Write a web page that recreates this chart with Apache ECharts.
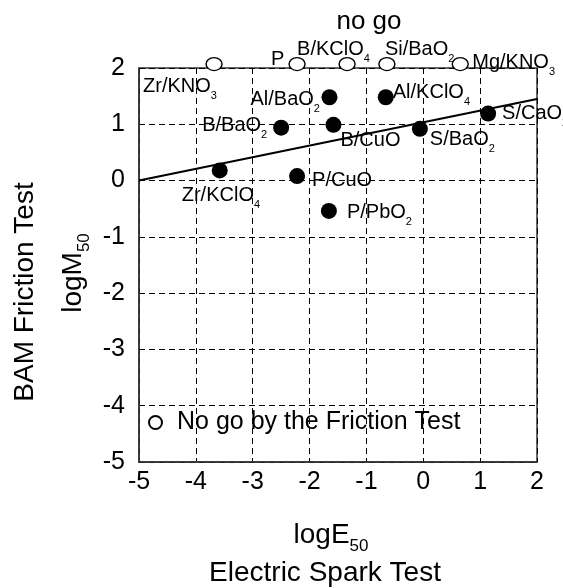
<!DOCTYPE html>
<html>
<head>
<meta charset="utf-8">
<script src="https://cdn.jsdelivr.net/npm/echarts@6/dist/echarts.min.js"></script>
<style>
  html, body { margin: 0; padding: 0; background: #fff; }
  #chart { width: 563px; height: 588px; }
</style>
</head>
<body>
<div id="chart"></div>
<script>
// "no go" compositions (open circles, sitting on the top edge)
const noGoNames = ['Zr/KNO_3', 'P', 'B/KClO_4', 'Si/BaO_2', 'Mg/KNO_3'];
const noGoX = [-3.68, -2.22, -1.34, -0.64, 0.65];
const noGoY = [2.07, 2.07, 2.07, 2.07, 2.07];

// compositions that went (filled circles)
const goNames = ['Al/BaO_2', 'Al/KClO_4', 'S/CaO_2', 'B/BaO_2', 'B/CuO', 'S/BaO_2', 'Zr/KClO_4', 'P/CuO', 'P/PbO_2'];
const goX = [-1.65, -0.66, 1.14, -2.5, -1.58, -0.06, -3.58, -2.22, -1.66];
const goY = [1.48, 1.48, 1.19, 0.94, 0.99, 0.92, 0.18, 0.08, -0.54];

// fitted line
const fitX = [-5, 2];
const fitY = [0, 1.45];

// label placement: [dx to text start, dy to text middle] in px from the point
const labelOffsets = {
  'Zr/KNO_3': [-71, 22],
  'P': [-26, -5],
  'B/KClO_4': [-50, -15],
  'Si/BaO_2': [-2, -15],
  'Mg/KNO_3': [12, -2],
  'Al/BaO_2': [-79, 2],
  'Al/KClO_4': [7, -5],
  'S/CaO_2': [14, 0],
  'B/BaO_2': [-79, -2],
  'B/CuO': [7, 16],
  'S/BaO_2': [10, 11],
  'Zr/KClO_4': [-38, 25],
  'P/CuO': [15, 4],
  'P/PbO_2': [18, 2]
};

const FONT = "'Liberation Sans', Arial, sans-serif";

function toRich(name) {
  return name.replace(/_(\d+)/g, '{s|$1}');
}

function makePoints(names, xs, ys) {
  return names.map((n, i) => {
    const off = labelOffsets[n];
    return {
      name: n,
      value: [xs[i], ys[i]],
      label: {
        show: true,
        position: 'inside',
        align: 'left',
        verticalAlign: 'middle',
        offset: off,
        formatter: toRich(n)
      }
    };
  });
}

const pointLabel = {
  color: '#000',
  fontFamily: FONT,
  fontSize: 20,
  lineHeight: 30,
  rich: {
    s: { fontSize: 11, lineHeight: 12, verticalAlign: 'bottom', fontFamily: FONT, color: '#000' }
  }
};

const chart = echarts.init(document.getElementById('chart'));

chart.setOption({
  animation: false,
  textStyle: { fontFamily: FONT },
  grid: {
    left: 139, right: 26, top: 68, bottom: 126,
    show: true, borderColor: '#333', borderWidth: 1.5
  },
  legend: {
    data: ['No go by the Friction Test'],
    left: 148, top: 410,
    padding: 0,
    icon: 'circle',
    itemWidth: 13, itemHeight: 13,
    textStyle: { fontSize: 25, color: '#000', fontFamily: FONT, padding: [0, 0, 0, 10] }
  },
  xAxis: {
    type: 'value', min: -5, max: 2, interval: 1,
    axisLine: { show: true, onZero: false, lineStyle: { color: '#333', width: 1.5 } },
    axisTick: { show: false },
    axisLabel: { color: '#000', fontSize: 25, margin: 8, fontFamily: FONT },
    splitLine: { show: true, lineStyle: { color: '#000', type: [6, 4], width: 1 } }
  },
  yAxis: {
    type: 'value', min: -5, max: 2, interval: 1,
    axisLine: { show: true, onZero: false, lineStyle: { color: '#333', width: 1.5 } },
    axisTick: { show: false },
    axisLabel: { color: '#000', fontSize: 25, margin: 14, fontFamily: FONT },
    splitLine: { show: true, lineStyle: { color: '#000', type: [6, 4], width: 1 } }
  },
  series: [
    {
      name: 'fit',
      type: 'line',
      data: fitX.map((x, i) => [x, fitY[i]]),
      showSymbol: false,
      lineStyle: { color: '#000', width: 2 },
      silent: true
    },
    {
      name: 'No go by the Friction Test',
      type: 'scatter',
      clip: false,
      symbol: 'circle',
      symbolSize: [16, 13],
      itemStyle: { color: '#fff', borderColor: '#000', borderWidth: 1.3, opacity: 1 },
      label: pointLabel,
      data: makePoints(noGoNames, noGoX, noGoY)
    },
    {
      name: 'go',
      type: 'scatter',
      clip: false,
      symbol: 'circle',
      symbolSize: 16,
      itemStyle: { color: '#000', opacity: 1 },
      label: pointLabel,
      data: makePoints(goNames, goX, goY)
    }
  ],
  graphic: [
    {
      type: 'text', x: 369, y: 22,
      style: { text: 'no go', font: '26px ' + FONT, fill: '#000', align: 'center', verticalAlign: 'middle' }
    },
    {
      type: 'text', x: 331, y: 535,
      style: {
        text: 'logE{s|50}', fill: '#000', align: 'center', verticalAlign: 'middle',
        font: '28px ' + FONT, lineHeight: 40,
        rich: { s: { font: '17px ' + FONT, lineHeight: 18, verticalAlign: 'bottom', fill: '#000' } }
      }
    },
    {
      type: 'text', x: 325, y: 573,
      style: { text: 'Electric Spark Test', font: '28px ' + FONT, fill: '#000', align: 'center', verticalAlign: 'middle' }
    },
    {
      type: 'text', x: 25, y: 292, rotation: Math.PI / 2,
      style: { text: 'BAM Friction Test', font: '28px ' + FONT, fill: '#000', align: 'center', verticalAlign: 'middle' }
    },
    {
      type: 'text', x: 73, y: 273, rotation: Math.PI / 2,
      style: {
        text: 'logM{s|50}', fill: '#000', align: 'center', verticalAlign: 'middle',
        font: '28px ' + FONT, lineHeight: 40,
        rich: { s: { font: '17px ' + FONT, lineHeight: 18, verticalAlign: 'bottom', fill: '#000' } }
      }
    }
  ]
});
</script>
</body>
</html>
